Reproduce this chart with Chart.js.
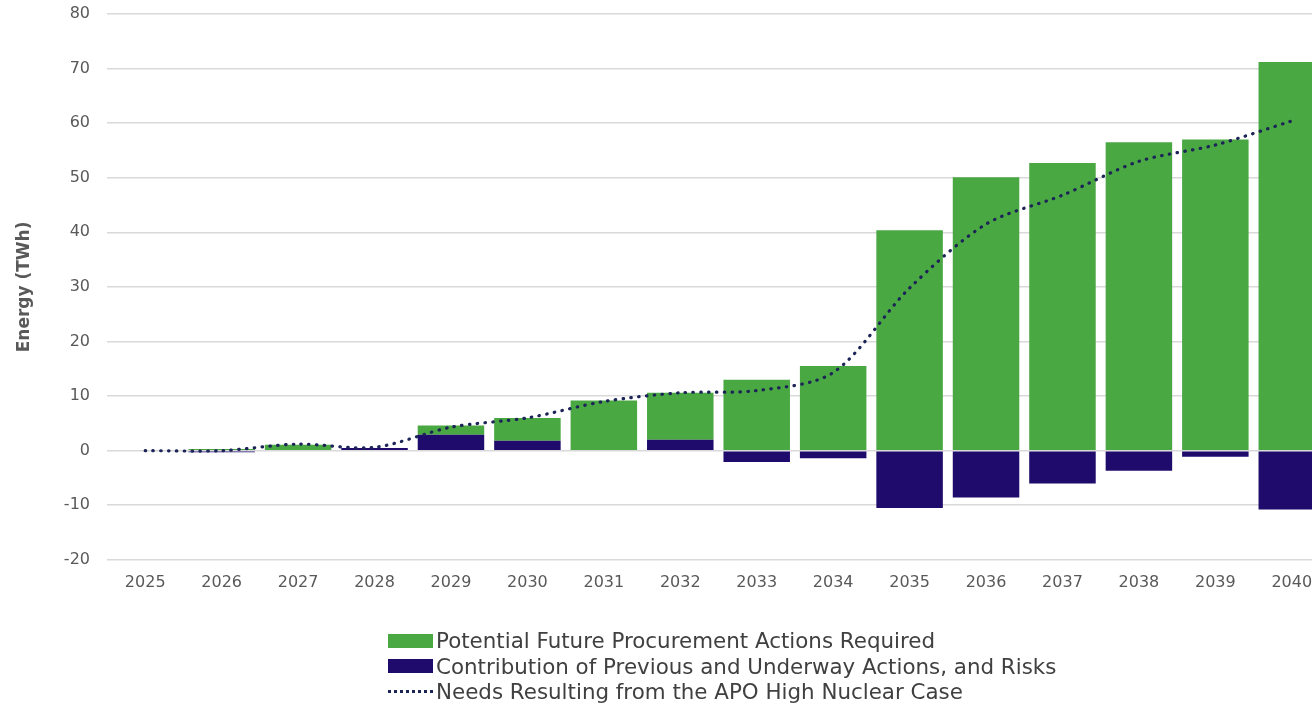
<!DOCTYPE html>
<html>
<head>
<meta charset="utf-8">
<script src="https://cdn.jsdelivr.net/npm/chart.js@4"></script>
<style>
    html, body { margin: 0; padding: 0; background: #fff; overflow: hidden; width: 1312px; height: 708px; }
    #wrap { position: absolute; left: 0; top: 0; width: 1330px; height: 708px; }
    #legend { position: absolute; left: 388px; top: 628px; font-family: 'DejaVu Sans', sans-serif; font-size: 21.4px; color: #404040; line-height: 25.5px; }
    .item { display: flex; align-items: center; white-space: nowrap; }
    .box { width: 45px; height: 14px; margin-right: 3px; }
    .dots { width: 45px; height: 0; border-top: 3px dotted #1b2357; margin-right: 3px; }
</style>
</head>
<body>
<div id="wrap"><canvas id="energyChart" width="1330" height="708"></canvas></div>
<div id="legend"></div>
<script>
const years = ['2025', '2026', '2027', '2028', '2029', '2030', '2031', '2032', '2033', '2034', '2035', '2036', '2037', '2038', '2039', '2040'];
const futureActions = [0, 0.3, 1.1, 0, 1.7, 4.2, 9.2, 8.6, 13.0, 15.5, 40.4, 50.1, 52.7, 56.5, 57.0, 71.2];
const previousActions = [0, -0.3, 0, 0.5, 2.9, 1.8, 0, 2.0, -2.1, -1.4, -10.5, -8.6, -6.0, -3.7, -1.1, -10.8];
const highNuclearNeeds = [0, 0, 1.2, 0.6, 4.3, 6.0, 9.0, 10.6, 11.0, 14.3, 29.8, 41.5, 46.8, 53.0, 56.0, 60.4];
const yTicks = [-20, -10, 0, 10, 20, 30, 40, 50, 60, 70, 80];

const green = '#4aa843';
const navy = '#1f0b6c';
const lineColor = '#1b2357';
const textColor = '#595959';

document.addEventListener('DOMContentLoaded', function () {
    const ctx = document.getElementById('energyChart').getContext('2d');

    const chart = new Chart(ctx, {
        type: 'bar',
        data: {
            labels: years,
            datasets: [{
                label: 'Contribution of Previous and Underway Actions, and Risks',
                data: previousActions,
                backgroundColor: navy,
                order: 1,
                stack: 'bars'
            }, {
                label: 'Potential Future Procurement Actions Required',
                data: futureActions,
                backgroundColor: green,
                order: 2,
                stack: 'bars'
            }, {
                type: 'line',
                label: 'Needs Resulting from the APO High Nuclear Case',
                data: highNuclearNeeds,
                borderColor: lineColor,
                borderWidth: 3.2,
                borderDash: [0.5, 7.3],
                borderCapStyle: 'round',
                pointRadius: 0,
                tension: 0.3,
                fill: false,
                order: 0,
                stack: 'needs'
            }]
        },
        options: {
            responsive: false,
            animation: false,
            layout: { padding: { top: 14, right: 0, bottom: 111, left: 0 } },
            datasets: {
                bar: { barPercentage: 0.87, categoryPercentage: 1 }
            },
            plugins: {
                legend: { display: false },
                tooltip: { enabled: false }
            },
            scales: {
                x: {
                    stacked: true,
                    grid: { display: false },
                    border: { display: false },
                    ticks: {
                        color: textColor,
                        padding: 5,
                        font: { family: 'DejaVu Sans', size: 16 }
                    }
                },
                y: {
                    stacked: true,
                    min: -20,
                    max: 80,
                    afterFit: function (scale) {
                        scale.width = 107;
                        scale.paddingTop = 0;
                        scale.paddingBottom = 0;
                    },
                    afterBuildTicks: function (scale) {
                        scale.ticks = yTicks.map(v => ({ value: v }));
                    },
                    grid: { color: '#d9d9d9', lineWidth: 1.5, drawTicks: false },
                    border: { display: false },
                    ticks: {
                        color: textColor,
                        padding: 17,
                        font: { family: 'DejaVu Sans', size: 16 }
                    },
                    title: {
                        display: true,
                        text: 'Energy (TWh)',
                        color: textColor,
                        padding: { top: 14, bottom: 0 },
                        font: { family: 'DejaVu Sans', size: 17, weight: 'bold' }
                    }
                }
            }
        }
    });

    // legend in the order of the reference, built from the chart's datasets
    const legend = document.getElementById('legend');
    [1, 0, 2].forEach(function (i) {
        const ds = chart.data.datasets[i];
        const row = document.createElement('div');
        row.className = 'item';
        const mark = document.createElement('span');
        if (ds.type === 'line') {
            mark.className = 'dots';
        } else {
            mark.className = 'box';
            mark.style.background = ds.backgroundColor;
        }
        const text = document.createElement('span');
        text.textContent = ds.label;
        row.appendChild(mark);
        row.appendChild(text);
        legend.appendChild(row);
    });
});
</script>
</body>
</html>
